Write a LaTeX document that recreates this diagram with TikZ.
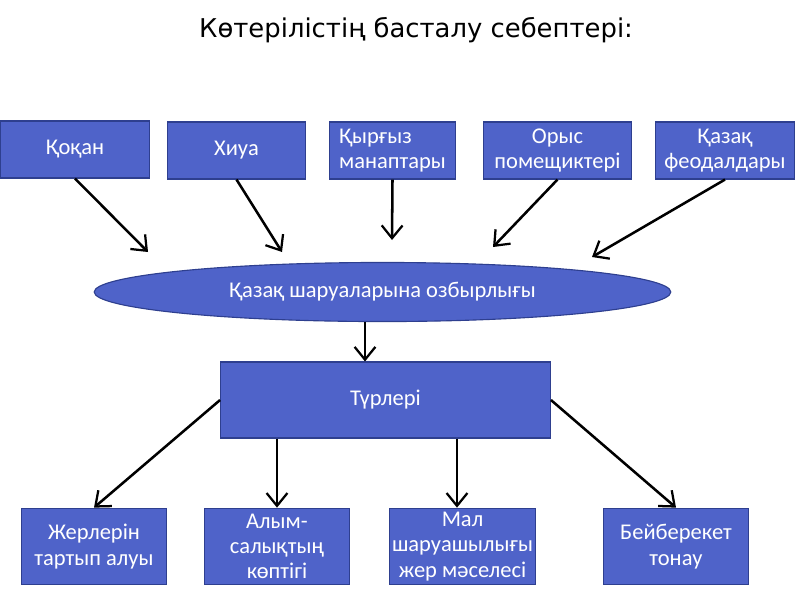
\documentclass[tikz,border=0pt]{standalone}
\usepackage{fontspec}
\setmainfont{Carlito}
\newfontfamily\titlefont{DejaVu Sans}
\usetikzlibrary{positioning,arrows.meta,shapes.geometric}
\definecolor{boxblue}{RGB}{79,99,201}
\definecolor{boxedge}{RGB}{46,63,143}
\tikzset{
  cause/.style={draw=boxedge,line width=0.8pt,fill=boxblue,text=white,
            align=center,font=\fontsize{16}{18}\selectfont,inner sep=0pt},
  kind/.style={cause,minimum width=103.5pt,minimum height=54.5pt},
  link/.style={-{Straight Barb[length=3.2mm,width=5.2mm,line width=1.6pt]},line width=1.8pt,black},
}

\begin{document}
\begin{tikzpicture}[x=0.025cm,y=-0.025cm]
  \useasboundingbox (0,0) rectangle (800,600);
  % --- Title ---
  \node[font=\titlefont\fontsize{18.4}{20}\selectfont] (title) at (416,30) {Көтерілістің басталу себептері:};
  % --- Causes (top row) ---
  \node[cause,minimum width=106pt,minimum height=40.5pt] (kokan) at (75,149.5) {Қоқан};
  \node[cause,minimum width=98.5pt,minimum height=40.5pt] (khiua) at (236.5,150.5) {Хиуа};
  \node[cause,minimum width=89pt,minimum height=40.5pt,align=left] (kyrgyz) at (392.5,150.5) {Қырғыз\\манаптары};
  \node[cause,minimum width=105.5pt,minimum height=40.5pt] (orys) at (557.5,150.5) {Орыс\\помещиктері};
  \node[cause,minimum width=99pt,minimum height=40.5pt] (feodal) at (725,150.5) {Қазақ\\феодалдары};
  % --- Ellipse ---
  \node[cause,ellipse,minimum width=410pt,minimum height=42pt] (ozbyr) at (382.5,292) {Қазақ шаруаларына озбырлығы};
  % --- Arrow ends above the ellipse ---
  \coordinate (t1) at (148,252);
  \coordinate (t2) at (282,252);
  \coordinate (t3) at (392,240);
  \coordinate (t4) at (493,247);
  \coordinate (t5) at (592,257);
  \draw[link] (kokan.south) -- (t1);
  \draw[link] (khiua.south) -- (t2);
  \draw[link] (kyrgyz.south) -- (t3);
  \draw[link] (orys.south) -- (t4);
  \draw[link] (feodal.south) -- (t5);
  % --- Types ---
  \node[cause,minimum width=234.5pt,minimum height=54pt] (turleri) at (385.5,400) {Түрлері};
  \draw[link] (ozbyr.south -| 365,0) -- (turleri.north -| 365,0);
  \node[kind] (zher) at (94,546.5) {Жерлерін\\тартып алуы};
  \node[kind] (alym) at (277,546.5) {Алым-\\салықтың\\көптігі};
  \node[kind] (mal) at (462.5,546.5) {Мал\\шаруашылығы\\жер мәселесі};
  \node[kind] (beiber) at (676,546.5) {Бейберекет\\тонау};
  \draw[link] (turleri.west) -- (zher.north);
  \draw[link] (turleri.south -| 277,0) -- (alym.north);
  \draw[link] (turleri.south -| 457,0) -- (mal.north -| 457,0);
  \draw[link] (turleri.east) -- (beiber.north);
\end{tikzpicture}
\end{document}
